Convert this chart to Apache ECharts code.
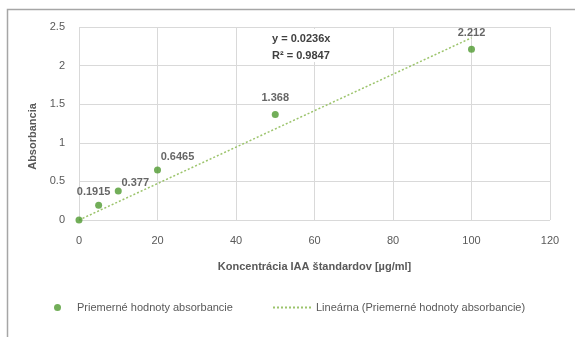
<!DOCTYPE html>
<html>
<head>
<meta charset="utf-8">
<script src="https://cdn.jsdelivr.net/npm/echarts@6/dist/echarts.min.js"></script>
<style>html,body{margin:0;padding:0;background:#fff}#c{width:575px;height:337px}</style>
</head>
<body>
<div id="c"></div>
<script>
// Data
const concentrations = [0, 5, 10, 20, 50, 100];
const absorbance = [0, 0.1915, 0.377, 0.6465, 1.368, 2.212];
const trendX = [0, 100];
const slope = 0.0236;
const rSquared = 0.9847;
const xTicks = [0, 20, 40, 60, 80, 100, 120];
const yTicks = [0, 0.5, 1, 1.5, 2, 2.5];
const seriesName = 'Priemerné hodnoty absorbancie';
const trendName = 'Lineárna (Priemerné hodnoty absorbancie)';
// label placement (not data)
const labelShift = [null, [-5, 3], [17, 8], [20, 3], [0, 0], [0, 0]];

const FONT = 'Liberation Sans';
const chart = echarts.init(document.getElementById('c'), null, {renderer: 'canvas'});

const pts = concentrations.map((x, i) => {
  const item = {value: [x, absorbance[i]]};
  if (labelShift[i] === null) {
    item.label = {show: false};
  } else {
    item.label = {offset: labelShift[i]};
  }
  return item;
});
const trend = trendX.map(x => [x, +(slope * x).toFixed(4)]);

chart.setOption({
  backgroundColor: '#fff',
  animation: false,
  textStyle: {fontFamily: FONT},
  grid: {left: 79, right: 25, top: 27, bottom: 117, containLabel: false},
  xAxis: {
    type: 'value', min: xTicks[0], max: xTicks[xTicks.length - 1], interval: 20,
    axisLine: {show: false}, axisTick: {show: false},
    splitLine: {lineStyle: {color: '#d9d9d9', width: 1}},
    axisLabel: {color: '#595959', fontSize: 11, margin: 15, fontFamily: FONT},
    name: 'Koncentrácia IAA štandardov [µg/ml]', nameLocation: 'middle', nameGap: 41,
    nameTextStyle: {color: '#595959', fontSize: 11, fontWeight: 'bold', fontFamily: FONT}
  },
  yAxis: {
    type: 'value', min: yTicks[0], max: yTicks[yTicks.length - 1], interval: 0.5,
    axisLine: {show: false}, axisTick: {show: false},
    splitLine: {lineStyle: {color: '#d9d9d9', width: 1}},
    axisLabel: {color: '#595959', fontSize: 11, margin: 14, fontFamily: FONT},
    name: 'Absorbancia', nameLocation: 'middle', nameGap: 41, nameRotate: 90,
    nameTextStyle: {color: '#595959', fontSize: 11, fontWeight: 'bold', fontFamily: FONT, padding: [0, 26, 0, 0]}
  },
  legend: [
    {
      data: [seriesName], left: 49, top: 297, itemWidth: 7, itemHeight: 7, icon: 'circle',
      textStyle: {color: '#595959', fontSize: 11, fontFamily: FONT, padding: [0, 0, 0, 11]}
    },
    {
      data: [{name: trendName, itemStyle: {opacity: 0}}], left: 267, top: 297, itemWidth: 38, itemHeight: 7,
      textStyle: {color: '#595959', fontSize: 11, fontFamily: FONT}
    }
  ],
  graphic: [
    {type: 'rect', shape: {x: 7.5, y: 9.5, width: 600, height: 400},
     style: {fill: 'none', stroke: '#a6a6a6', lineWidth: 1.5}, silent: true},
    {type: 'rect', shape: {x: 266, y: 29, width: 76, height: 33},
     style: {fill: '#fff', stroke: 'none'}, silent: true, z: 1},
    {type: 'text', left: 272, top: 33, z: 2,
     style: {text: 'y = ' + slope + 'x', fill: '#404040', font: 'bold 11px ' + FONT}},
    {type: 'text', left: 272, top: 50, z: 2,
     style: {text: 'R² = ' + rSquared, fill: '#404040', font: 'bold 11px ' + FONT}}
  ],
  series: [
    {
      name: seriesName, type: 'scatter', data: pts, symbolSize: 7,
      itemStyle: {color: '#4f9a2f'},
      label: {show: true, position: 'top', distance: 7, color: '#404040', fontSize: 11,
              fontWeight: 'bold', fontFamily: FONT,
              formatter: p => String(p.value[1])},
      z: 3
    },
    {
      name: trendName, type: 'line', data: trend, showSymbol: false, symbol: 'none',
      lineStyle: {color: '#9cc46c', width: 1.5, type: [2, 2]},
      itemStyle: {color: '#9cc46c'},
      z: 2
    }
  ]
});
</script>
</body>
</html>
